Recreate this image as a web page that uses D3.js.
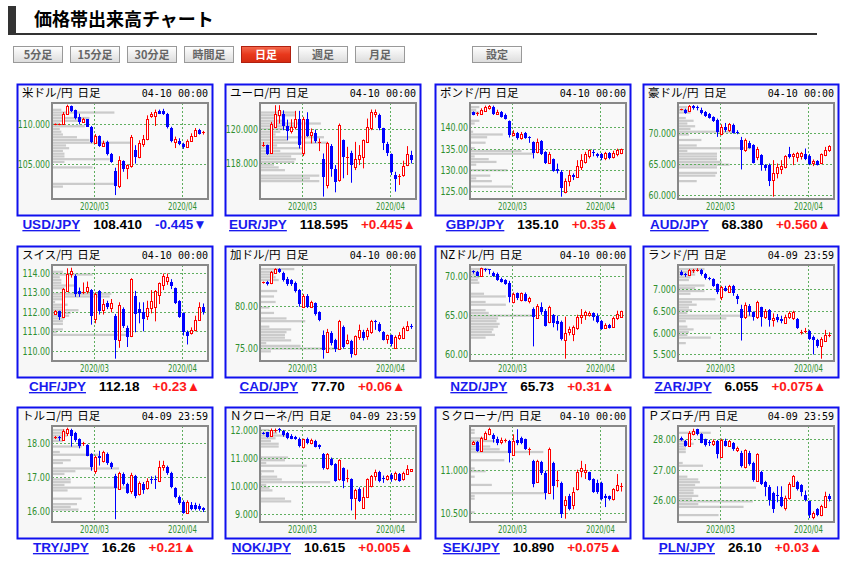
<!DOCTYPE html>
<html>
<head>
<meta charset="utf-8">
<script src="https://cdn.jsdelivr.net/npm/d3@7"></script>
<style>
  body { margin: 0; background: #fff; }
  text { font-family: "Liberation Sans", Arial, sans-serif; }
</style>
</head>
<body>
<svg id="chart" width="844" height="562"></svg>
<script>
// ---- data ----
const days = ['02-17','02-18','02-19','02-20','02-21','02-24','02-25','02-26','02-27','02-28',
  '03-02','03-03','03-04','03-05','03-06','03-09','03-10','03-11','03-12','03-13','03-16','03-17',
  '03-18','03-19','03-20','03-23','03-24','03-25','03-26','03-27','03-30','03-31',
  '04-01','04-02','04-03','04-06','04-07','04-08']
const monthStarts = ['03-02', '04-01']
const monthLabels = ['2020/03', '2020/04']

const pairs = ['USD/JPY','EUR/JPY','GBP/JPY','AUD/JPY','CHF/JPY','CAD/JPY','NZD/JPY','ZAR/JPY','TRY/JPY','NOK/JPY','SEK/JPY','PLN/JPY']
const names = ['米ドル/円','ユーロ/円','ポンド/円','豪ドル/円','スイス/円','加ドル/円','NZドル/円','ランド/円','トルコ/円','Ｎクローネ/円','Ｓクローナ/円','Ｐズロチ/円']
const stamps = ['04-10 00:00','04-10 00:00','04-10 00:00','04-10 00:00','04-10 00:00','04-10 00:00','04-10 00:00','04-09 23:59','04-09 23:59','04-09 23:59','04-10 00:00','04-09 23:59']
const lastPrices = ['108.410','118.595','135.10','68.380','112.18','77.70','65.73','6.055','16.26','10.615','10.890','26.10']
const changes = ['-0.445','+0.445','+0.35','+0.560','+0.23','+0.06','+0.31','+0.075','+0.21','+0.005','+0.075','+0.03']
const yDomains = [[100.77,112.51],[115.92,121.53],[123.22,145.67],[59.42,74.71],[109.47,114.41],[73.5,84.92],
  [59.15,71.44],[5.35,7.545],[15.69,18.48],[8.73,12.14],[10.395,11.52],[25.27,28.44]]
const yTicks = [[105,110],[118,120],[125,130,135,140],[60,65,70],[110,111,112,113,114],[75,80],
  [60,65,70],[5.5,6,6.5,7],[16,17,18],[9,10,11,12],[10.5,11],[26,27,28]]
const tickDecimals = [3,3,2,3,2,2,2,3,2,3,3,2]

// candles: [open, high, low, close]
const usdjpy = [[109.9,110.0,109.8,109.95],[109.9,110.0,109.8,109.95],[109.92,111.4,109.85,111.22],[111.2,112.3,111.1,112.1],
  [112.1,112.2,111.4,111.5],[111.6,111.7,110.5,110.7],[110.8,111.2,109.9,110.2],[110.15,110.7,110.1,110.55],[110.5,110.55,109.6,109.6],
  [109.6,109.7,107.6,107.8],[107.6,108.7,107.5,108.45],[108.45,108.55,107.15,107.3],[107.25,107.9,107.15,107.65],[107.75,107.9,106.1,106.25],
  [106.3,106.4,105.2,105.3],[104.2,104.6,101.25,102.35],[102.35,106.0,102.1,105.5],[105.4,105.5,104.1,104.4],[104.6,105.0,103.2,104.9],
  [104.8,108.6,104.6,108.3],[106.75,107.35,105.1,105.85],[105.85,107.95,105.75,107.65],[107.55,108.6,107.15,108.05],[108.05,111.0,107.95,110.6],
  [110.9,111.4,110.7,111.2],[110.9,111.7,109.7,111.4],[111.55,111.7,111.15,111.2],[111.55,111.8,111.05,111.2],[111.2,111.3,109.4,109.6],
  [109.5,109.6,107.7,107.85],[107.7,108.4,107.0,108.05],[107.9,108.2,107.35,107.5],[107.5,107.65,106.9,107.15],[107.15,108.05,107.0,107.9],
  [107.9,108.8,107.75,108.45],[108.5,109.45,108.45,109.25],[109.25,109.35,108.65,108.7],[108.85,109.1,108.65,108.95]]
const eurjpy = [[119.05,119.25,118.97,119.1],[119.07,119.1,118.5,118.55],[118.58,120.43,118.55,120.33],[120.14,121.4,120.1,120.91],
  [120.85,121.4,120.33,121.1],[120.91,121.1,119.94,120.17],[120.17,120.56,119.36,119.9],[119.9,120.58,119.75,120.12],[120.14,121.07,119.98,120.62],
  [120.62,121.07,118.87,119.1],[118.62,120.72,118.43,120.62],[120.62,120.99,119.55,119.59],[119.65,120.04,119.17,119.84],[119.79,119.98,119.2,119.3],
  [119.22,119.46,118.72,119.28],[118.23,118.58,116.06,117.18],[116.74,119.26,116.54,119.17],[119.01,119.13,117.22,117.65],[117.65,117.9,116.31,116.93],
  [117.03,120.33,116.93,120.27],[119.36,119.4,117.13,118.35],[118.33,118.97,117.32,118.36],[118.58,118.74,116.87,117.9],[117.78,119.26,117.61,118.23],
  [118.23,119.07,117.9,118.47],[118.35,119.4,117.71,119.36],[119.26,120.62,119.2,120.14],[120.04,121.15,119.94,121.01],[120.87,121.15,120.68,121.01],
  [120.82,120.91,119.94,120.04],[120.04,120.08,118.78,119.17],[119.13,119.26,118.43,118.62],[118.54,118.58,117.32,117.51],[117.32,117.51,116.35,117.11],
  [117.2,117.38,116.74,117.24],[117.32,118.16,117.22,117.84],[117.9,119.01,117.84,118.54],[118.49,118.74,118.0,118.19]]
const gbpjpy = [[143.57,143.7,142.8,142.87],[143.15,143.57,142.64,143.25],[143.19,144.43,143.03,144.12],[143.8,145.05,143.65,144.74],
  [144.58,145.2,144.12,144.9],[144.74,145.05,142.87,143.19],[143.2,144.1,143.0,143.6],[143.65,143.8,142.25,142.4],[142.8,143.2,141.8,142.0],
  [141.5,141.6,137.6,138.3],[138.3,139.3,137.9,138.7],[138.7,138.9,137.1,137.4],[137.4,138.9,137.1,138.5],[138.7,138.9,137.3,137.6],
  [137.75,137.9,136.35,137.45],[136.6,136.7,132.7,134.0],[134.25,137.35,133.9,136.5],[136.7,137.0,133.5,133.7],[134.25,134.4,131.4,131.7],
  [131.7,134.25,131.4,133.86],[132.46,132.7,129.6,129.82],[130.13,131.5,129.2,129.67],[129.6,129.98,123.76,125.7],[124.93,128.03,124.54,127.5],
  [127.5,129.98,126.2,128.8],[128.9,129.2,127.65,128.27],[128.4,132.3,128.27,130.9],[130.6,133.7,130.0,132.3],[131.9,134.25,131.5,133.7],
  [133.2,134.8,132.7,134.6],[134.3,134.8,133.2,134.1],[133.7,134.0,132.9,133.2],[133.7,134.0,132.3,132.7],[132.9,134.25,132.3,134.0],
  [134.0,134.2,132.5,132.9],[133.1,134.5,132.7,133.9],[133.7,135.0,133.2,134.6],[134.0,135.0,133.7,134.8]]
const audjpy = [[73.6,73.8,73.55,73.7],[73.65,73.8,73.0,73.12],[73.44,74.39,73.33,74.29],[74.29,74.39,73.65,73.86],
  [74.1,74.29,73.54,73.97],[73.65,73.97,72.9,73.12],[73.23,73.44,72.49,72.7],[72.9,73.12,72.22,72.38],[72.49,72.59,71.69,71.85],
  [72.06,72.22,69.31,70.1],[69.74,71.32,69.58,70.9],[70.9,71.53,70.1,70.37],[70.37,71.53,70.1,71.32],[71.16,71.43,69.84,69.95],
  [70.15,70.37,69.74,70.05],[68.78,69.31,64.13,67.2],[67.2,69.05,66.93,68.78],[68.36,68.68,67.46,67.62],[67.99,68.15,65.08,65.19],
  [66.14,67.72,65.61,67.46],[66.4,66.56,63.92,64.81],[64.81,64.97,63.92,64.29],[64.81,65.08,61.48,62.33],[62.43,65.61,59.79,63.49],
  [63.6,65.08,62.7,64.44],[64.13,65.61,63.39,64.66],[64.44,66.4,64.29,66.24],[66.56,67.72,65.87,66.03],[66.24,66.77,64.81,66.56],
  [66.14,66.93,65.34,66.67],[66.3,66.93,65.7,66.67],[66.56,67.46,65.61,65.87],[66.24,66.56,64.81,64.97],[65.08,65.71,64.66,65.5],
  [65.4,65.61,64.76,64.87],[65.08,66.67,64.97,66.56],[66.4,67.72,66.24,67.3],[67.2,67.99,66.93,67.83]]
const chfjpy = [[111.89,112.09,111.86,112.03],[112.03,112.06,111.58,111.75],[111.75,113.22,111.69,113.17],[113.08,114.24,113.05,113.97],
  [113.93,114.27,113.76,114.1],[113.86,113.93,112.77,112.94],[113.08,113.25,112.77,112.91],[112.97,113.51,112.91,113.0],[113.05,113.56,112.94,113.29],
  [113.12,113.17,111.34,111.79],[111.63,113.0,111.41,112.91],[113.08,113.12,111.86,112.03],[112.09,112.66,111.86,112.4],[112.43,112.57,112.14,112.26],
  [112.2,112.66,111.97,112.43],[111.8,111.89,109.59,110.56],[110.56,112.49,110.15,112.37],[112.14,112.23,111.17,111.29],[111.17,111.29,110.19,110.73],
  [110.78,113.73,110.7,113.68],[112.83,113.08,110.95,111.89],[112.14,112.49,111.41,111.92],[111.97,112.49,111.0,111.63],[111.8,112.57,111.58,112.2],
  [112.2,113.12,111.92,112.54],[112.26,113.12,111.51,113.05],[112.88,113.51,112.4,113.46],[113.39,113.97,113.12,113.85],[113.59,113.97,113.39,113.8],
  [113.51,113.68,113.17,113.34],[113.22,113.25,112.4,112.43],[112.57,112.6,111.69,111.75],[111.92,111.97,110.78,110.95],[110.95,111.04,110.32,110.78],
  [110.9,111.2,110.83,111.07],[111.07,111.8,111.0,111.58],[111.58,112.49,111.55,112.23],[112.23,112.43,111.86,111.97]]
const cadjpy = [[82.8,82.95,82.7,82.85],[82.95,83.03,82.48,82.64],[82.72,84.21,82.64,84.09],[84.02,84.53,83.94,84.45],
  [84.45,84.53,83.98,84.13],[84.02,84.13,82.95,83.11],[83.23,83.5,82.44,82.64],[83.11,83.23,82.44,82.64],[82.83,82.95,81.65,81.85],
  [81.93,82.05,79.96,80.28],[79.96,81.46,79.8,81.26],[81.26,81.46,79.8,79.88],[79.96,80.67,79.8,80.47],[80.35,80.47,78.9,79.09],
  [79.29,79.41,78.23,78.39],[76.65,77.13,73.78,74.76],[74.57,77.32,74.45,76.93],[76.81,77.05,75.35,75.63],[76.02,76.14,74.57,74.96],
  [74.96,78.39,74.84,78.23],[77.6,77.72,74.96,75.16],[75.63,76.65,75.47,76.02],[75.87,76.02,73.9,74.37],[74.29,76.54,74.17,76.42],
  [76.34,77.83,76.02,77.13],[76.93,77.21,75.94,76.26],[76.42,77.44,76.02,77.13],[76.93,78.39,76.73,78.31],[78.31,78.39,77.21,78.11],
  [77.91,78.11,76.93,77.05],[76.93,77.05,75.94,76.02],[76.14,76.65,75.55,76.54],[76.54,76.65,75.24,75.47],[75.08,76.54,74.96,76.34],
  [76.26,76.93,76.02,76.65],[76.26,77.6,76.14,77.44],[77.21,78.23,77.05,77.72],[77.72,77.91,77.32,77.52]]
const nzdjpy = [[70.64,70.76,70.34,70.55],[70.59,70.68,70.0,70.08],[70.04,71.1,69.92,71.02],[70.89,71.02,70.59,70.8],
  [70.89,70.93,70.25,70.8],[70.47,70.59,69.92,70.04],[70.25,70.47,69.41,69.49],[69.62,69.83,69.19,69.32],[69.49,69.62,68.9,69.07],
  [69.19,69.41,66.65,67.29],[66.65,67.92,66.53,67.71],[67.8,67.92,66.95,67.2],[66.95,67.92,66.78,67.8],[67.71,67.92,66.78,66.86],
  [66.78,67.37,66.53,67.2],[65.8,66.02,61.02,64.83],[64.66,66.44,64.53,66.23],[66.1,66.65,65.08,65.38],[65.59,65.8,63.56,63.69],
  [64.11,66.23,63.98,66.1],[65.08,65.17,63.47,63.98],[64.24,64.96,63.05,63.9],[64.11,64.32,61.78,61.99],[61.86,64.83,59.45,62.71],
  [62.84,63.56,62.42,63.26],[62.63,63.69,61.69,63.56],[63.39,65.08,63.14,64.83],[64.83,65.8,63.9,65.08],[65.08,65.59,64.41,65.38],
  [65.08,65.51,64.83,65.25],[65.25,65.38,64.32,64.75],[64.96,65.25,63.98,64.11],[64.32,64.41,63.14,63.26],[63.39,63.98,63.26,63.81],
  [63.81,63.9,63.31,63.39],[63.56,64.83,63.47,64.66],[64.66,65.59,64.41,65.17],[64.83,65.59,64.66,65.51]]
const zarjpy = [[7.394,7.424,7.303,7.318],[7.34,7.364,7.273,7.33],[7.318,7.455,7.303,7.424],[7.42,7.455,7.364,7.43],
  [7.43,7.47,7.394,7.44],[7.424,7.455,7.303,7.333],[7.333,7.364,7.212,7.242],[7.25,7.273,7.197,7.24],[7.22,7.242,7.045,7.068],
  [7.106,7.121,6.879,6.917],[6.803,7.068,6.742,7.045],[7.03,7.068,6.939,6.955],[6.939,7.091,6.924,7.068],[7.068,7.091,6.841,6.894],
  [6.841,6.879,6.652,6.765],[6.538,6.636,5.818,6.333],[6.348,6.689,6.311,6.636],[6.614,6.652,6.386,6.462],[6.462,6.485,6.273,6.348],
  [6.348,6.727,6.311,6.689],[6.576,6.591,6.136,6.348],[6.348,6.538,6.311,6.485],[6.515,6.538,6.136,6.288],[6.288,6.439,6.136,6.333],
  [6.364,6.424,6.235,6.288],[6.311,6.386,6.212,6.258],[6.212,6.409,6.197,6.364],[6.364,6.485,6.311,6.439],[6.333,6.5,6.288,6.462],
  [6.311,6.333,6.083,6.106],[6.0,6.061,5.955,6.01],[6.02,6.106,5.985,6.03],[6.03,6.061,5.833,5.856],[5.894,5.932,5.5,5.833],
  [5.833,5.856,5.652,5.682],[5.682,5.894,5.402,5.856],[5.818,6.061,5.803,5.955],[5.95,6.008,5.894,5.955]]
const tryjpy = [[18.14,18.19,18.1,18.15],[18.17,18.19,18.05,18.12],[18.08,18.38,18.05,18.34],[18.29,18.43,18.19,18.38],
  [18.37,18.4,17.88,18.19],[18.27,18.31,18.02,18.08],[18.1,18.12,17.83,17.9],[17.97,18.02,17.9,17.99],[17.92,17.95,17.6,17.62],
  [17.66,17.69,17.18,17.28],[17.18,17.62,17.09,17.57],[17.6,17.76,17.33,17.54],[17.47,17.76,17.42,17.73],[17.66,17.71,17.35,17.4],
  [17.4,17.44,17.23,17.28],[17.04,17.09,15.77,16.67],[16.65,17.15,16.63,17.12],[17.09,17.13,16.75,16.8],[16.8,16.83,16.51,16.54],
  [16.58,17.12,16.51,17.06],[17.02,17.06,16.38,16.44],[16.51,16.87,16.46,16.83],[16.8,16.85,16.51,16.63],[16.67,16.96,16.63,16.87],
  [16.95,17.02,16.8,16.93],[16.95,17.04,16.65,16.93],[16.89,17.47,16.85,17.28],[17.28,17.47,17.18,17.35],[17.28,17.33,17.06,17.12],
  [17.12,17.15,16.67,16.7],[16.67,16.7,16.38,16.41],[16.41,16.46,16.19,16.25],[16.27,16.32,15.93,15.96],[15.96,16.32,15.93,16.27],
  [16.19,16.27,16.03,16.06],[16.17,16.25,16.03,16.08],[16.15,16.22,16.02,16.06],[16.1,16.12,15.98,16.03]]
const nokjpy = [[11.89,11.93,11.84,11.87],[11.91,11.93,11.73,11.76],[11.79,12.05,11.76,12.0],[11.99,12.05,11.91,12.0],
  [12.03,12.07,11.91,12.01],[11.96,12.0,11.76,11.81],[11.88,11.93,11.67,11.73],[11.79,11.85,11.67,11.69],[11.76,11.79,11.65,11.67],
  [11.69,11.73,11.38,11.44],[11.41,11.69,11.34,11.67],[11.67,11.73,11.49,11.55],[11.55,11.69,11.49,11.65],[11.61,11.65,11.38,11.41],
  [11.46,11.49,11.32,11.38],[11.14,11.18,10.59,10.64],[10.64,11.18,10.59,11.14],[10.96,11.02,10.73,10.75],[10.79,10.82,10.16,10.2],
  [10.26,10.96,10.2,10.94],[10.64,10.67,9.93,10.2],[10.27,10.59,10.14,10.29],[10.24,10.28,9.14,9.53],[9.58,9.91,8.82,9.85],
  [9.91,9.96,9.44,9.49],[9.22,9.96,9.2,9.61],[9.61,10.28,9.58,10.24],[10.0,10.4,9.96,10.35],[10.35,10.59,10.2,10.52],
  [10.52,10.55,10.14,10.2],[10.29,10.38,10.12,10.26],[10.24,10.4,10.2,10.35],[10.4,10.47,10.16,10.24],[10.24,10.52,10.2,10.47],
  [10.44,10.47,10.16,10.2],[10.24,10.52,10.2,10.47],[10.44,10.75,10.4,10.61],[10.55,10.61,10.52,10.61]]
const sekjpy = [[11.31,11.345,11.302,11.333],[11.333,11.345,11.217,11.229],[11.229,11.395,11.217,11.384],[11.364,11.457,11.357,11.442],
  [11.422,11.5,11.411,11.488],[11.411,11.434,11.326,11.372],[11.372,11.395,11.295,11.326],[11.333,11.384,11.306,11.357],[11.35,11.372,11.326,11.355],
  [11.345,11.357,11.093,11.209],[11.178,11.422,11.171,11.345],[11.357,11.481,11.295,11.318],[11.384,11.395,11.306,11.326],[11.364,11.372,11.24,11.248],
  [11.245,11.267,11.178,11.25],[11.112,11.124,10.802,10.841],[10.868,11.124,10.86,11.112],[11.093,11.112,10.946,10.969],[10.969,10.996,10.659,10.736],
  [10.736,11.267,10.725,11.256],[11.085,11.101,10.659,10.822],[10.875,10.996,10.802,10.884],[10.853,10.868,10.442,10.492],[10.597,10.698,10.434,10.647],
  [10.698,10.725,10.531,10.543],[10.589,10.802,10.543,10.752],[10.783,11.008,10.764,10.984],[10.996,11.112,10.919,11.023],[10.984,11.074,10.899,11.008],
  [10.977,10.984,10.88,10.891],[10.899,10.907,10.736,10.752],[10.853,10.891,10.725,10.752],[10.853,10.868,10.647,10.659],[10.705,10.725,10.57,10.674],
  [10.698,10.705,10.647,10.659],[10.659,10.791,10.647,10.783],[10.775,10.957,10.752,10.829],[10.808,10.853,10.752,10.812]]
const plnjpy = [[28.05,28.09,27.95,27.98],[27.95,27.98,27.76,27.78],[27.78,28.27,27.76,28.22],[28.16,28.35,28.13,28.27],
  [28.33,28.35,28.13,28.16],[28.16,28.2,27.87,27.89],[28.0,28.02,27.76,27.8],[27.92,27.98,27.78,27.9],[27.84,28.0,27.78,27.95],
  [27.95,27.98,27.37,27.51],[27.43,28.02,27.4,27.98],[27.95,28.02,27.76,27.78],[27.78,27.98,27.76,27.95],[27.89,27.91,27.62,27.67],
  [27.65,27.76,27.58,27.73],[27.56,27.62,27.07,27.13],[27.07,27.67,27.04,27.65],[27.56,27.62,27.13,27.18],[27.23,27.26,26.6,26.67],
  [26.63,27.54,26.6,27.51],[26.93,26.96,26.49,26.52],[26.58,26.63,26.12,26.42],[26.42,26.49,25.81,26.01],[26.23,26.27,25.57,25.7],
  [26.16,26.45,25.92,26.12],[26.09,26.45,25.76,25.79],[25.73,26.14,25.65,26.05],[26.05,26.58,26.01,26.52],[26.47,26.82,26.45,26.78],
  [26.6,26.63,26.31,26.36],[26.49,26.52,26.12,26.27],[26.16,26.31,25.95,25.98],[25.95,25.98,25.4,25.49],[25.43,25.62,25.36,25.57],
  [25.7,25.73,25.46,25.49],[25.49,25.84,25.46,25.81],[25.76,26.27,25.73,26.14],[26.12,26.2,25.95,26.03]]

// volume at price, 35 bins from the top of the price range down (percent of plot width)
const usdVol = [0,0,6,40,7,24,17,5,21,5,6,7,16,24,50,9,11,7,8,8,37,8,0,26,0,0,0,0,0,40,7,0,0,0,0]
const eurVol = [0,0,0,23,23,10,15,39,23,15,13,10,41,18,43,11,28,13,29,20,23,22,9,12,16,0,38,32,38,0,0,0,0,0,0]
const gbpVol = [0,6,4,6,0,0,6,3,0,0,2,21,11,0,10,0,3,33,41,3,12,17,4,0,24,0,13,4,14,0,27,0,0,0,0]
const audVol = [0,6,7,8,0,5,10,6,11,8,35,7,0,15,0,12,47,6,25,25,25,28,33,25,0,25,24,0,12,0,0,0,0,0,0]
const chfVol = [0,0,7,26,5,6,6,16,8,0,38,37,7,2,10,8,17,12,11,8,7,7,0,7,3,48,0,0,0,0,0,0,0,0,0]
const cadVol = [0,22,11,9,10,12,0,0,0,11,0,9,0,10,0,6,0,9,0,17,29,0,6,20,17,16,16,20,4,26,50,7,0,0,0]
const nzdVol = [0,12,6,5,6,5,6,0,0,0,9,23,0,10,23,0,10,12,40,18,17,19,18,15,14,16,10,0,0,0,0,0,0,0,0]
const zarVol = [0,17,11,11,8,7,0,17,11,17,8,0,24,9,12,7,9,6,48,31,5,0,6,10,7,6,21,0,5,0,0,0,0,0,0]
const tryVol = [0,8,9,10,7,7,0,19,0,5,30,0,12,7,0,43,15,8,0,12,12,8,48,10,0,0,19,0,16,12,17,0,0,0,0]
const nokVol = [0,6,11,17,10,7,12,12,0,0,0,18,16,4,30,0,9,1,11,14,45,4,6,8,0,0,16,20,0,0,0,0,0,0,0]
const sekVol = [0,3,3,0,11,16,4,13,19,47,0,0,22,0,0,3,10,0,3,0,0,14,0,0,48,3,3,0,0,0,0,3,0,0,0]
const plnVol = [0,0,21,0,0,5,10,5,5,5,0,0,0,3,16,0,0,0,6,13,14,11,50,10,10,13,9,48,13,42,0,0,26,0,0]

const candles = [usdjpy, eurjpy, gbpjpy, audjpy, chfjpy, cadjpy, nzdjpy, zarjpy, tryjpy, nokjpy, sekjpy, plnjpy]
const volumes = [usdVol, eurVol, gbpVol, audVol, chfVol, cadVol, nzdVol, zarVol, tryVol, nokVol, sekVol, plnVol]

const buttons = ['5分足', '15分足', '30分足', '時間足', '日足', '週足', '月足', '設定']
const activeButton = '日足'

// ---- layout ----
const colX = [17, 225, 435, 643]
const rowY = [84, 246, 407]
const panelW = 195, panelH = 131
const plotDx = 35, plotDy = 19, plotW = 156, plotH = 96
const btnX = [13, 70, 127, 184, 241, 298, 355, 472]

const RED = '#ff0000', BLUE = '#0000ff', GREEN = '#2f8f2f', GRID = '#5fae5f'
const JP = '"Noto Sans CJK JP", sans-serif'

const svg = d3.select('#chart')
const defs = svg.append('defs')

const gBtn = defs.append('linearGradient').attr('id', 'btn').attr('x1', 0).attr('y1', 0).attr('x2', 0).attr('y2', 1)
gBtn.append('stop').attr('offset', 0).attr('stop-color', '#ffffff')
gBtn.append('stop').attr('offset', 1).attr('stop-color', '#dcdcdc')
const gAct = defs.append('linearGradient').attr('id', 'btnOn').attr('x1', 0).attr('y1', 0).attr('x2', 0).attr('y2', 1)
gAct.append('stop').attr('offset', 0).attr('stop-color', '#f46a4e')
gAct.append('stop').attr('offset', 0.5).attr('stop-color', '#e8381c')
gAct.append('stop').attr('offset', 1).attr('stop-color', '#d42a10')

// title bar
svg.append('rect').attr('x', 8).attr('y', 6).attr('width', 8).attr('height', 28).attr('fill', '#333')
svg.append('text').attr('x', 34).attr('y', 26)
  .style('font-family', JP).style('font-size', '18px').style('font-weight', 'bold')
  .text('価格帯出来高チャート')
svg.append('rect').attr('x', 8).attr('y', 33).attr('width', 809).attr('height', 2).attr('fill', '#333')

// period buttons
const btn = svg.selectAll('g.btn').data(buttons).enter().append('g')
  .attr('transform', (d, i) => `translate(${btnX[i]},46)`)
btn.append('rect').attr('x', 0.5).attr('y', 0.5).attr('width', 49).attr('height', 16)
  .attr('fill', d => d === activeButton ? 'url(#btnOn)' : 'url(#btn)')
  .attr('stroke', d => d === activeButton ? '#b02010' : '#999')
btn.append('text').attr('x', 25).attr('y', 13).attr('text-anchor', 'middle')
  .style('font-family', JP).style('font-size', '11px').style('font-weight', 'bold')
  .attr('fill', d => d === activeButton ? '#fff' : '#666')
  .text(d => d)

// panels
pairs.forEach((pair, k) => {
  const px = colX[k % 4], py = rowY[Math.floor(k / 4)]
  const pl = px + plotDx, pt = py + plotDy
  const g = svg.append('g')

  g.append('rect').attr('x', px + 0.5).attr('y', py + 0.5).attr('width', panelW).attr('height', panelH)
    .attr('fill', '#f7f7f7').attr('stroke', '#1010ee').attr('stroke-width', 2)

  const nm = g.append('text').attr('x', px + 5).attr('y', py + 13)
    .style('font-family', JP).style('font-size', '11.5px').text(names[k])
  g.append('text').attr('x', px + 10 + nm.node().getComputedTextLength()).attr('y', py + 13)
    .style('font-family', JP).style('font-size', '11.5px').text('日足')
  g.append('text').attr('x', px + panelW - 4).attr('y', py + 13).attr('text-anchor', 'end')
    .style('font-family', '"DejaVu Sans Mono", monospace').style('font-size', '10px').text(stamps[k])

  const x = d3.scaleBand().domain(days).range([pl + 1.5, pl + 1.5 + days.length * 4])
  const y = d3.scaleLinear().domain(yDomains[k]).range([pt + plotH, pt])
  const yBin = d3.scaleBand().domain(d3.range(volumes[k].length)).range([pt, pt + plotH])
  const v = d3.scaleLinear().domain([0, 100]).range([0, plotW])

  g.append('rect').attr('x', pl).attr('y', pt).attr('width', plotW).attr('height', plotH).attr('fill', '#f9f9f9')

  // volume by price
  g.selectAll('rect.vol').data(volumes[k]).enter().append('rect')
    .attr('x', pl).attr('y', (d, i) => yBin(i) + 0.2)
    .attr('width', d => v(d)).attr('height', yBin.bandwidth() - 0.5)
    .attr('fill', '#cbcbcb')

  // grid
  g.selectAll('line.hg').data(yTicks[k]).enter().append('line')
    .attr('x1', pl).attr('x2', pl + plotW)
    .attr('y1', d => Math.round(y(d)) + 0.5).attr('y2', d => Math.round(y(d)) + 0.5)
    .attr('stroke', GRID).attr('stroke-dasharray', '2,2')
  g.selectAll('line.vg').data(monthStarts).enter().append('line')
    .attr('x1', d => Math.round(x(d)) + 0.5).attr('x2', d => Math.round(x(d)) + 0.5)
    .attr('y1', pt).attr('y2', pt + plotH)
    .attr('stroke', GRID).attr('stroke-dasharray', '2,2')

  // tick labels
  g.selectAll('text.yt').data(yTicks[k]).enter().append('text')
    .attr('x', pl - 2).attr('y', d => y(d) + 4).attr('text-anchor', 'end')
    .style('font-family', '"DejaVu Sans", sans-serif').style('font-size', '11px').attr('fill', GREEN)
    .attr('textLength', d => d.toFixed(tickDecimals[k]).length * 4.6).attr('lengthAdjust', 'spacingAndGlyphs')
    .text(d => d.toFixed(tickDecimals[k]))
  g.selectAll('text.mt').data(monthStarts).enter().append('text')
    .attr('x', d => Math.round(x(d)) + 0.5 - 14.5).attr('y', py + 126)
    .style('font-family', '"DejaVu Sans", sans-serif').style('font-size', '10.5px').attr('fill', GREEN)
    .attr('textLength', 29).attr('lengthAdjust', 'spacingAndGlyphs')
    .text((d, i) => monthLabels[i])

  // candles
  const c = g.selectAll('g.candle').data(candles[k]).enter().append('g')
  const cx = (d, i) => x(days[i]) + 2
  const col = d => d[3] >= d[0] ? RED : BLUE
  c.append('line')
    .attr('x1', cx).attr('x2', cx)
    .attr('y1', d => y(d[1])).attr('y2', d => y(d[2]))
    .attr('stroke', col)
  c.each(function (d, i) {
    const top = Math.round(y(Math.max(d[0], d[3])))
    const h = Math.round(y(Math.min(d[0], d[3]))) - top
    const sel = d3.select(this)
    if (d[3] >= d[0] && h >= 2) {
      sel.append('rect').attr('x', cx(d, i) - 1).attr('y', top + 0.5)
        .attr('width', 2).attr('height', h).attr('fill', '#fff').attr('stroke', RED)
    } else {
      sel.append('rect').attr('x', cx(d, i) - 1.5).attr('y', top)
        .attr('width', 3).attr('height', Math.max(1, h)).attr('fill', col(d))
    }
  })

  g.append('rect').attr('x', pl).attr('y', pt).attr('width', plotW).attr('height', plotH)
    .attr('fill', 'none').attr('stroke', '#888').attr('stroke-width', 2)

  // quote line under the panel
  const q = svg.append('g').style('font-size', '13.5px').style('font-weight', 'bold')
  const up = changes[k][0] === '+'
  const t1 = q.append('text').attr('y', py + 145)
    .attr('fill', '#1a1aee').attr('text-decoration', 'underline').text(pair)
  const t2 = q.append('text').attr('y', py + 145)
    .attr('fill', '#000').text(lastPrices[k])
  const t3 = q.append('text').attr('y', py + 145)
    .attr('fill', up ? '#ff1a1a' : '#1a1aee').text(changes[k] + (up ? '▲' : '▼'))
  const gap = 13
  const w1 = t1.node().getComputedTextLength(), w2 = t2.node().getComputedTextLength(), w3 = t3.node().getComputedTextLength()
  const start = px + panelW / 2 - (w1 + w2 + w3 + 2 * gap) / 2
  t1.attr('x', start)
  t2.attr('x', start + w1 + gap)
  t3.attr('x', start + w1 + w2 + 2 * gap)
})
</script>
</body>
</html>
